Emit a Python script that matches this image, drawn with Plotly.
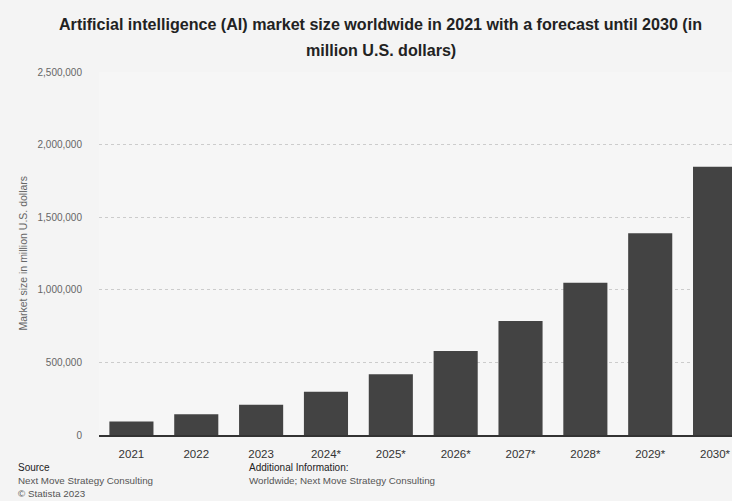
import plotly.graph_objects as go

years = ["2021", "2022", "2023", "2024*", "2025*", "2026*", "2027*", "2028*", "2029*", "2030*"]
market_size = [93530, 142320, 207900, 298250, 419060, 578580, 784980, 1049350, 1388920, 1847500]
y_ticks = [0, 500000, 1000000, 1500000, 2000000, 2500000]
y_tick_labels = ["0", "500,000", "1,000,000", "1,500,000", "2,000,000", "2,500,000"]

W, H = 732, 501
L, R, T, B = 98.5, 0, 72, 66
pw = W - L - R

fig = go.Figure(go.Bar(x=list(range(len(years))), y=market_size, marker_color="#434343",
                       marker_line_width=0))

font = "Liberation Sans, Arial, sans-serif"
fig.update_layout(
    width=W, height=H,
    margin=dict(l=L, r=R, t=T, b=B, pad=0),
    paper_bgcolor="#f4f4f4", plot_bgcolor="#f6f6f6",
    bargap=0.32, showlegend=False,
    font=dict(family=font, color="#333333"),
)
fig.update_xaxes(
    tickmode="array", tickvals=list(range(len(years))), ticktext=years,
    range=[-0.5, -0.5 + pw / 64.9],
    showgrid=False, showline=True, linecolor="#333333", linewidth=1.5,
    ticks="", tickfont=dict(size=11.5, color="#333333"), ticklabelstandoff=7,
)
fig.update_yaxes(
    range=[0, 2500000], tickmode="array", tickvals=y_ticks, ticktext=y_tick_labels,
    showgrid=True, gridcolor="#cccccc", griddash="dot", gridwidth=1,
    zeroline=False, ticks="", tickfont=dict(size=10, color="#666666"),
    ticklabelstandoff=16,
)

def px_x(x):
    return (x - L) / pw

def px_y(y):
    return (H - B - y) / (H - T - B)

ann = [
    dict(text="<b>Artificial intelligence (AI) market size worldwide in 2021 with a forecast until 2030 (in</b>",
         x=px_x(380), y=px_y(24), font=dict(size=16.1, color="#222222")),
    dict(text="<b>million U.S. dollars)</b>", x=px_x(381), y=px_y(50), font=dict(size=16.1, color="#222222")),
    dict(text="Market size in million U.S. dollars", x=px_x(22), y=px_y(253), textangle=-90,
         font=dict(size=10.5, color="#666666")),
    dict(text="Source", x=px_x(15), y=px_y(467), xanchor="left", font=dict(size=10, color="#222222")),
    dict(text="Next Move Strategy Consulting", x=px_x(15), y=px_y(480), xanchor="left",
         font=dict(size=9.8, color="#555555")),
    dict(text="© Statista 2023", x=px_x(15), y=px_y(493), xanchor="left",
         font=dict(size=9.8, color="#555555")),
    dict(text="Additional Information:", x=px_x(247), y=px_y(467), xanchor="left",
         font=dict(size=10, color="#222222")),
    dict(text="Worldwide; Next Move Strategy Consulting", x=px_x(247), y=px_y(480), xanchor="left",
         font=dict(size=9.8, color="#555555")),
]
for a in ann:
    a.setdefault("xanchor", "center")
    a.update(xref="paper", yref="paper", yanchor="middle", showarrow=False)
    fig.add_annotation(**a)

fig.write_html("out.html", config={"displayModeBar": False},
               post_script="document.body.style.margin='0';document.body.style.overflow='hidden';")
